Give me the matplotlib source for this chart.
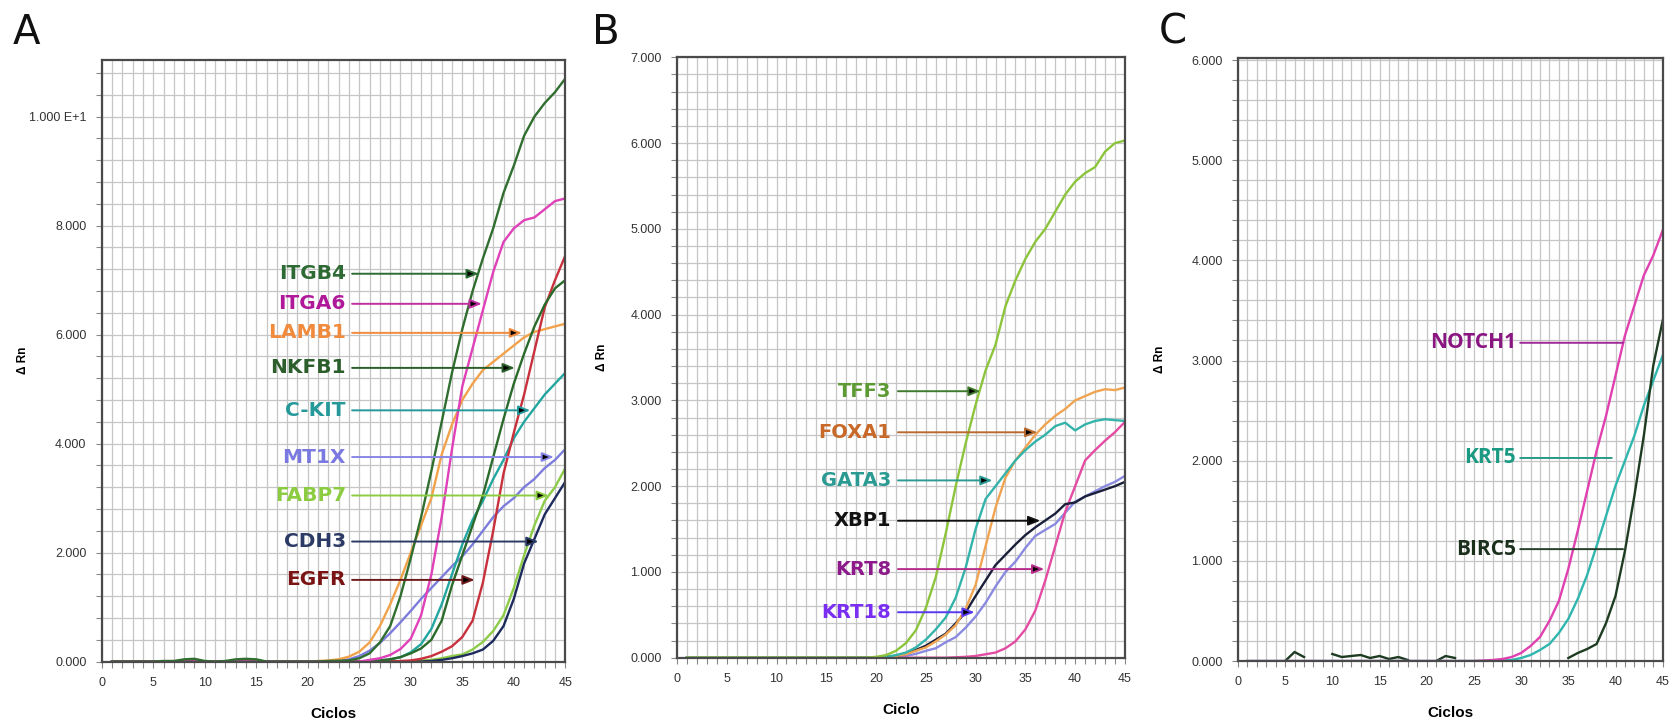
import numpy as np
import matplotlib
matplotlib.use("Agg")
import matplotlib.pyplot as plt

# cycles 1..45
cycles = np.arange(1, 46)

# ---- panel A (Delta Rn) ----
itgb4 = [0, 0, 0, 0, 0, 10, 10, 40, 50, 10, 0, 10, 40, 50, 40, 0, 0, 0, 0, 0, 0, 10, 15,
         20, 60, 150, 350, 650, 1200, 1900, 2650, 3500, 4400, 5300, 6100, 6800, 7400, 7950,
         8600, 9100, 9650, 10000, 10250, 10450, 10700]
itga6 = [0] * 25 + [30, 60, 120, 230, 420, 850, 1600, 2650, 3900, 5050, 5750, 6450, 7150,
                    7700, 7950, 8100, 8150, 8300, 8450, 8500]
lamb1 = [0] * 20 + [10, 20, 40, 90, 180, 350, 650, 1050, 1500, 2000, 2500, 3000, 3800,
                    4350, 4800, 5100, 5350, 5500, 5650, 5800, 5950, 6050, 6100, 6150, 6200]
nkfb1 = [0] * 26 + [20, 40, 80, 150, 240, 400, 750, 1400, 1950, 2500, 3050, 3750, 4450,
                    5100, 5650, 6150, 6550, 6850, 7000]
ckit = [0] * 26 + [20, 40, 80, 170, 320, 600, 1050, 1600, 2150, 2600, 2950, 3350, 3700,
                   4100, 4400, 4650, 4900, 5100, 5300]
mt1x = [0] * 22 + [20, 40, 100, 200, 340, 520, 720, 930, 1150, 1350, 1550, 1750, 1930,
                   2150, 2400, 2650, 2850, 3000, 3200, 3350, 3550, 3700, 3900]
fabp7 = [0] * 30 + [20, 30, 60, 100, 130, 220, 360, 560, 850, 1350, 1950, 2500, 2950,
                    3200, 3550]
cdh3 = [0] * 31 + [10, 30, 60, 100, 150, 220, 380, 650, 1150, 1800, 2250, 2700, 3000, 3300]
egfr = [0] * 28 + [10, 20, 50, 100, 180, 280, 450, 750, 1450, 2400, 3450, 4200, 4900,
                   5700, 6500, 7000, 7450]

# ---- panel B ----
tff3 = [0] * 19 + [10, 30, 80, 170, 320, 580, 940, 1450, 2000, 2500, 2950, 3350, 3650, 4100,
                   4400, 4650, 4850, 5000, 5200, 5400, 5550, 5650, 5720, 5900, 6000, 6030]
foxa1 = [0] * 20 + [10, 20, 40, 80, 120, 190, 270, 380, 570, 850, 1300, 1750, 2100, 2300,
                    2450, 2600, 2720, 2820, 2900, 3000, 3050, 3100, 3130, 3120, 3150]
gata3 = [0] * 20 + [10, 30, 60, 120, 210, 330, 470, 700, 1050, 1500, 1850, 2000, 2150, 2300,
                    2420, 2520, 2600, 2700, 2740, 2650, 2720, 2760, 2780, 2770, 2760]
xbp1 = [0] * 20 + [10, 20, 45, 90, 140, 210, 280, 400, 530, 720, 900, 1080, 1200, 1320,
                   1430, 1520, 1600, 1680, 1790, 1810, 1880, 1920, 1960, 2000, 2050]
krt18 = [0] * 21 + [10, 20, 45, 80, 110, 180, 240, 350, 480, 640, 830, 1000, 1120, 1280,
                    1420, 1490, 1560, 1690, 1820, 1880, 1940, 2000, 2050, 2120]
krt8 = [0] * 27 + [5, 10, 20, 40, 60, 110, 190, 330, 550, 900, 1300, 1700, 2000, 2300,
                   2420, 2530, 2630, 2750]

# ---- panel C ----
notch1 = [0] * 25 + [5, 10, 20, 40, 80, 150, 240, 400, 600, 920, 1300, 1700, 2100, 2450,
                     2850, 3250, 3550, 3850, 4050, 4300]
krt5 = [0] * 27 + [5, 10, 30, 60, 110, 170, 280, 420, 620, 860, 1150, 1450, 1750, 2000,
                   2250, 2550, 2800, 3050]
birc5_cyc = np.arange(35, 46)
birc5 = [30, 80, 120, 170, 380, 650, 1100, 1650, 2250, 2950, 3400]
birc5_noise_cyc = [5, 6, 7, np.nan, 10, 11, 12, 13, 14, 15, 16, 17, 18, np.nan, 21, 22, 23]
birc5_noise = [0, 90, 40, np.nan, 70, 40, 50, 60, 30, 50, 20, 40, 10, np.nan, 0, 50, 30]

W, H = 1679, 721
fig = plt.figure(figsize=(W / 100, H / 100), dpi=100)


def setup_axes(rect, ymax, ymajor, ylabels, yminor, xlabel):
    ax = fig.add_axes(rect)
    ax.set_xlim(0, 45)
    ax.set_ylim(0, ymax)
    ax.set_xticks(np.arange(0, 46, 5))
    ax.set_xticks(np.arange(0, 46, 1), minor=True)
    ax.set_yticks(ymajor)
    ax.set_yticklabels(ylabels)
    ax.set_yticks(np.arange(0, ymax, yminor), minor=True)
    ax.grid(which='both', color='#c6c6c6', lw=0.9)
    ax.set_axisbelow(True)
    for s in ax.spines.values():
        s.set_color('#4a4a4a')
        s.set_linewidth(1.6)
    ax.tick_params(which='both', direction='out', color='#888888', length=4, width=0.8)
    ax.tick_params(labelsize=9, labelcolor='#333333', pad=7)
    for lab in ax.get_xticklabels() + ax.get_yticklabels():
        lab.set_family('Liberation Sans')
    ax.set_xlabel(xlabel, fontsize=11, fontweight='bold', family='Liberation Sans')
    ax.xaxis.set_label_coords(0.5, -0.075)
    ax.set_ylabel('Δ Rn', fontsize=8.5, fontweight='bold', family='Liberation Sans')
    return ax


def tag(ax, text, y, xt, xs, xe, tcolor, lcolor, fs=14.5, head=True, family='DejaVu Sans'):
    style = '-|>,head_length=0.7,head_width=0.28' if head else '-'
    ax.annotate('', xy=(xe, y), xytext=(xs, y),
                arrowprops=dict(arrowstyle=style, ec=lcolor, fc='black', lw=1.4,
                                shrinkA=0, shrinkB=0))
    ax.text(xt, y, text, ha='right', va='center', color=tcolor, fontsize=fs,
            fontweight='bold', family=family)


# ---------- A ----------
axA = setup_axes([0.0606, 0.0825, 0.2761, 0.8343], 11040,
                 [0, 2000, 4000, 6000, 8000, 10000],
                 ['0.000', '2.000', '4.000', '6.000', '8.000', '1.000 E+1'], 400, 'Ciclos')
axA.yaxis.set_label_coords(-0.157, 0.5)
lw = 1.7
axA.plot(cycles, mt1x, color='#7c7cdc', lw=lw)
axA.plot(cycles, lamb1, color='#f2a24a', lw=lw)
axA.plot(cycles, fabp7, color='#8ccc48', lw=lw)
axA.plot(cycles, cdh3, color='#1c2a5c', lw=lw)
axA.plot(cycles, ckit, color='#22a6a0', lw=lw)
axA.plot(cycles, egfr, color='#c8303c', lw=lw)
axA.plot(cycles, nkfb1, color='#2a6a2a', lw=lw)
axA.plot(cycles, itga6, color='#e040b8', lw=lw)
axA.plot(cycles, itgb4, color='#2f6e2f', lw=lw)

xt, xs = 23.7, 24.3
tag(axA, 'ITGB4', 7117, xt, xs, 36.6, '#2e6b34', '#2e6b34')
tag(axA, 'ITGA6', 6565, xt, xs, 36.9, '#b0189a', '#c02fa0')
tag(axA, 'LAMB1', 6032, xt, xs, 40.8, '#f08a3c', '#f08a3c')
tag(axA, 'NKFB1', 5389, xt, xs, 40.1, '#2c5e2c', '#2c5e2c')
tag(axA, 'C-KIT', 4610, xt, xs, 41.6, '#25999a', '#25999a')
tag(axA, 'MT1X', 3753, xt, xs, 43.9, '#7b78e0', '#8886e6')
tag(axA, 'FABP7', 3047, xt, xs, 43.4, '#8ccc40', '#8ccc40')
tag(axA, 'CDH3', 2202, xt, xs, 42.4, '#2b3b66', '#2b3b66')
tag(axA, 'EGFR', 1498, xt, xs, 36.2, '#7a1414', '#6e1a1a')

# ---------- B ----------
axB = setup_axes([0.4032, 0.0878, 0.2668, 0.8327], 7000,
                 np.arange(0, 7001, 1000),
                 ['0.000', '1.000', '2.000', '3.000', '4.000', '5.000', '6.000', '7.000'],
                 200, 'Ciclo')
axB.yaxis.set_label_coords(-0.154, 0.5)
axB.plot(cycles, krt18, color='#8a8ae0', lw=lw)
axB.plot(cycles, krt8, color='#e44ca4', lw=lw)
axB.plot(cycles, xbp1, color='#1a1f3a', lw=lw)
axB.plot(cycles, foxa1, color='#f0a452', lw=lw)
axB.plot(cycles, gata3, color='#33b3aa', lw=lw)
axB.plot(cycles, tff3, color='#8cc43c', lw=lw)

xt, xs = 21.5, 22.2
tag(axB, 'TFF3', 3107, xt, xs, 30.5, '#5c9a34', '#3f7a2c', fs=14)
tag(axB, 'FOXA1', 2628, xt, xs, 36.2, '#c8692a', '#b86a30', fs=14)
tag(axB, 'GATA3', 2067, xt, xs, 31.7, '#2a9a92', '#2a9a92', fs=14)
tag(axB, 'XBP1', 1597, xt, xs, 36.5, '#111111', '#111111', fs=14)
tag(axB, 'KRT8', 1033, xt, xs, 36.9, '#8c1a8a', '#b52a8a', fs=14)
tag(axB, 'KRT18', 530, xt, xs, 29.9, '#7a2ef2', '#5a3af0', fs=14)

# ---------- C ----------
axC = setup_axes([0.7373, 0.0832, 0.2530, 0.8359], 6017,
                 np.arange(0, 6001, 1000),
                 ['0.000', '1.000', '2.000', '3.000', '4.000', '5.000', '6.000'],
                 200, 'Ciclos')
axC.yaxis.set_label_coords(-0.169, 0.5)
axC.plot(birc5_noise_cyc, birc5_noise, color='#1e3c22', lw=lw)
axC.plot(cycles, krt5, color='#2fb6ae', lw=lw)
axC.plot(cycles, notch1, color='#e040b0', lw=lw)
axC.plot(birc5_cyc, birc5, color='#1e3c22', lw=lw)

xt, xs = 29.45, 29.9
tag(axC, 'NOTCH1', 3177, xt, xs, 40.8, '#8a1682', '#a02898', fs=15, head=False, family='Open Sans')
tag(axC, 'KRT5', 2027, xt, xs, 39.6, '#1a9a82', '#2a9a88', fs=15, head=False, family='Open Sans')
tag(axC, 'BIRC5', 1117, xt, xs, 40.8, '#1a301c', '#24402a', fs=15, head=False, family='Open Sans')

# panel letters
for x, letter in [(13, 'A'), (592, 'B'), (1159, 'C')]:
    fig.text(x / W, 1 - 44 / H, letter, fontsize=29, va='baseline', ha='left', color='#111111')

fig.savefig('out.png', dpi=100)
